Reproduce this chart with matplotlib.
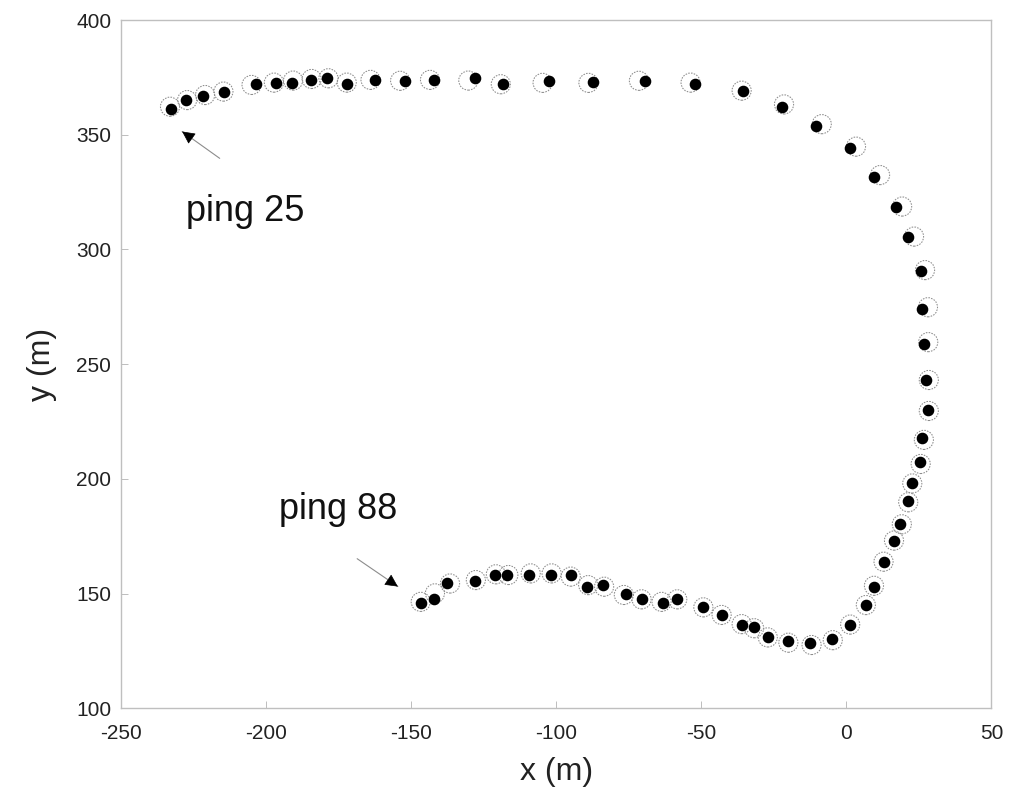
import matplotlib
matplotlib.use("Agg")
import matplotlib.pyplot as plt

# Measured positions (black dots), ping 25 ... ping 88
dot_x = [-232.9, -227.6, -221.6, -214.5, -203.5, -196.6, -191.0, -184.6, -179.1, -172.2,
         -162.5, -152.1, -142.0, -128.0, -118.5, -102.5, -87.2, -69.4, -52.1, -35.5,
         -22.3, -10.5, 1.2, 9.6, 17.1, 21.3, 25.6, 26.2, 26.8, 27.4,
         28.0, 25.9, 25.4, 22.7, 21.3, 18.5, 16.4, 13.0, 9.5, 6.7,
         1.3, -5.0, -12.6, -20.2, -27.1, -31.8, -36.1, -43.0, -49.3, -58.3,
         -63.1, -70.6, -76.1, -84.0, -89.3, -95.0, -101.8, -109.3, -117.1, -121.1,
         -128.0, -137.8, -142.0, -146.7]
dot_y = [361.2, 365.1, 366.9, 368.5, 372.0, 372.7, 372.7, 373.9, 374.6, 372.1,
         373.9, 373.5, 373.9, 374.6, 372.0, 373.5, 372.8, 373.5, 372.0, 369.2,
         362.2, 353.7, 344.1, 331.7, 318.4, 305.6, 290.6, 273.9, 258.9, 243.1,
         230.0, 217.7, 207.2, 198.3, 190.5, 180.2, 173.1, 163.6, 153.0, 145.0,
         136.3, 130.3, 128.3, 129.3, 130.9, 135.3, 136.3, 140.7, 144.0, 147.5,
         146.0, 147.5, 149.7, 153.7, 153.0, 158.1, 158.1, 158.1, 158.1, 158.1,
         155.6, 154.7, 147.6, 146.0]

# Estimated positions (dashed circles)
circ_x = [-233.1, -227.2, -221.0, -214.7, -205.0, -197.3, -190.7, -184.3, -178.5, -172.2,
          -164.0, -153.8, -143.5, -130.3, -119.1, -104.7, -88.9, -71.5, -53.7, -36.1,
          -21.5, -8.5, 3.3, 11.6, 19.2, 23.3, 27.1, 28.1, 28.2, 28.4,
          28.4, 26.7, 25.6, 22.7, 21.3, 19.1, 16.4, 12.8, 9.5, 6.7,
          1.3, -4.7, -12.0, -20.0, -27.1, -31.8, -36.1, -43.0, -49.3, -58.3,
          -63.7, -70.6, -76.7, -83.5, -89.0, -95.0, -101.6, -108.8, -116.5, -120.8,
          -127.7, -136.6, -141.8, -146.7]
circ_y = [362.2, 365.1, 367.3, 368.8, 371.7, 372.7, 373.6, 374.3, 374.6, 372.7,
          373.9, 373.5, 373.9, 373.6, 372.0, 372.6, 372.6, 373.5, 372.7, 369.2,
          363.2, 354.6, 344.8, 332.4, 318.7, 305.6, 291.0, 274.8, 259.6, 243.1,
          229.6, 217.0, 206.5, 198.0, 189.8, 180.2, 173.1, 163.9, 153.4, 145.0,
          136.5, 129.7, 127.6, 128.6, 130.9, 134.9, 136.7, 140.7, 144.0, 147.5,
          146.4, 147.5, 149.4, 153.0, 153.7, 157.4, 158.8, 158.8, 158.1, 158.4,
          155.9, 154.4, 150.1, 146.4]

x_ticks = [-250, -200, -150, -100, -50, 0, 50]
y_ticks = [100, 150, 200, 250, 300, 350, 400]

plt.rcParams['font.family'] = ['Liberation Sans', 'DejaVu Sans']
plt.rcParams['axes.unicode_minus'] = False

fig = plt.figure(figsize=(10.21, 7.94), dpi=100)
ax = fig.add_axes([0.1185, 0.1079, 0.8526, 0.8669])

ax.scatter(circ_x, circ_y, s=190, facecolors='none', edgecolors='0.55',
           linewidths=0.75, linestyle=(0, (1.5, 1.2)), zorder=2)
ax.scatter(dot_x, dot_y, s=54, color='black', zorder=3)

ax.set_xlim(-250, 50)
ax.set_ylim(100, 400)
ax.set_xticks(x_ticks)
ax.set_yticks(y_ticks)
ax.tick_params(direction='in', length=5, width=0.6, color='0.7',
               labelsize=15, labelcolor='#222222')
ax.tick_params(axis='x', pad=11)
ax.tick_params(axis='y', pad=7)
for sp in ax.spines.values():
    sp.set_color('0.75')
    sp.set_linewidth(1.0)

ax.set_xlabel('x (m)', fontsize=23, color='#222222', va='center')
ax.set_ylabel('y (m)', fontsize=23, color='#222222', va='center')
ax.xaxis.set_label_coords(0.5, -0.0925)
ax.yaxis.set_label_coords(-0.0908, 0.5)

# annotations
ax.text(-207.3, 316.5, 'ping 25', fontsize=26, ha='center', va='center', color='#111111')
ax.annotate('', xy=(-229.7, 352.1), xytext=(-215.2, 339.0),
            arrowprops=dict(arrowstyle='-', color='0.55', lw=0.8))
ax.annotate('', xy=(-229.7, 352.1), xytext=(-225.5, 348.3),
            arrowprops=dict(arrowstyle='-|>', color='black', lw=0.5, mutation_scale=20))

ax.text(-175.2, 186.7, 'ping 88', fontsize=26, ha='center', va='center', color='#111111')
ax.annotate('', xy=(-153.8, 152.4), xytext=(-169.4, 165.9),
            arrowprops=dict(arrowstyle='-', color='0.55', lw=0.8))
ax.annotate('', xy=(-153.8, 152.4), xytext=(-158.1, 156.1),
            arrowprops=dict(arrowstyle='-|>', color='black', lw=0.5, mutation_scale=20))

fig.savefig('out.png', dpi=100)
